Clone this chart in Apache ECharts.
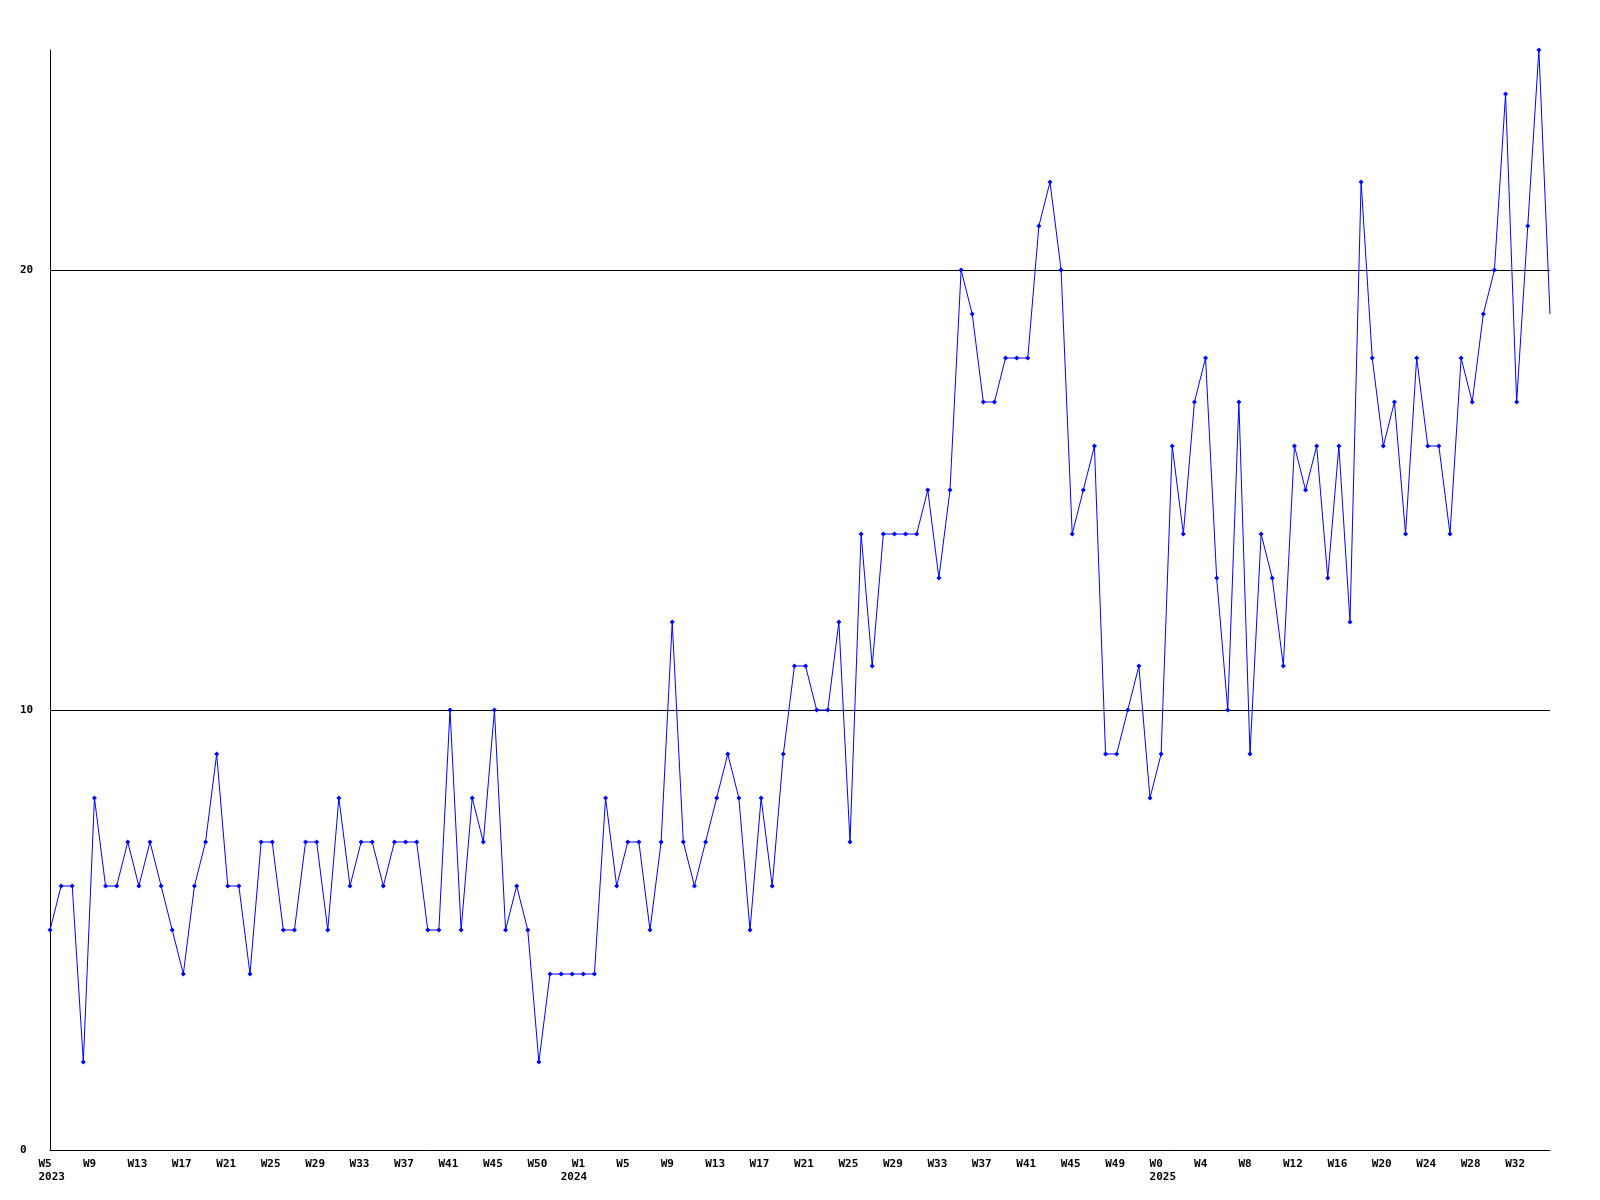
<!DOCTYPE html>
<html>
<head>
<meta charset="utf-8">
<script src="https://cdn.jsdelivr.net/npm/echarts@6/dist/echarts.min.js"></script>
<style>
html,body{margin:0;padding:0;background:#fff;}
#chart{width:1600px;height:1200px;}
</style>
</head>
<body>
<div id="chart"></div>
<script>
// Week numbers per year (one entry per data point)
const weeks2023 = [5,6,7,8,9,10,11,12,13,14,15,16,17,18,19,20,21,22,23,24,25,26,27,28,29,30,31,32,33,34,35,36,37,38,39,40,41,42,43,44,45,46,47,48,50,51,52];
const weeks2024 = [0,1,2,3,4,5,6,7,8,9,10,11,12,13,14,15,16,17,18,19,20,21,22,23,24,25,26,27,28,29,30,31,32,33,34,35,36,37,38,39,40,41,42,43,44,45,46,47,48,49,50,51,52];
const weeks2025 = [0,1,2,3,4,5,6,7,8,9,10,11,12,13,14,15,16,17,18,19,20,21,22,23,24,25,26,27,28,29,30,31,32,33,34,35];

// Weekly values
const values = [
  5,6,6,2,8,6,6,7,6,7,
  6,5,4,6,7,9,6,6,4,7,
  7,5,5,7,7,5,8,6,7,7,
  6,7,7,7,5,5,10,5,8,7,
  10,5,6,5,2,4,4,4,4,4,
  8,6,7,7,5,7,12,7,6,7,
  8,9,8,5,8,6,9,11,11,10,
  10,12,7,14,11,14,14,14,14,15,
  13,15,20,19,17,17,18,18,18,21,
  22,20,14,15,16,9,9,10,11,8,
  9,16,14,17,18,13,10,17,9,14,
  13,11,16,15,16,13,16,12,22,18,
  16,17,14,18,16,16,14,18,17,19,
  20,24,17,21,25,19
];

const yTicks = [0, 10, 20];

const categories = [];
const yearOf = [];
weeks2023.forEach(w => { categories.push('W' + w); yearOf.push(2023); });
weeks2024.forEach(w => { categories.push('W' + w); yearOf.push(2024); });
weeks2025.forEach(w => { categories.push('W' + w); yearOf.push(2025); });

const LABEL_STEP = 4;
const font = '"DejaVu Sans Mono", "Liberation Mono", monospace';

const seriesData = values.map((v, i) => i === values.length - 1 ? {value: v, symbol: 'none'} : v);

const labelBase = {
  color: '#000',
  fontFamily: font,
  fontWeight: 'bold',
  fontSize: 11,
  rich: {t: {width: 23, align: 'left', fontFamily: font, fontWeight: 'bold', fontSize: 11, color: '#000'}}
};

const chart = echarts.init(document.getElementById('chart'), null, {renderer: 'canvas'});
chart.setOption({
  backgroundColor: '#ffffff',
  animation: false,
  grid: {left: 50, right: 50, top: 50, bottom: 50, containLabel: false},
  xAxis: [{
    type: 'category',
    data: categories,
    boundaryGap: false,
    position: 'bottom',
    axisLine: {lineStyle: {color: '#000', width: 1}},
    axisTick: {show: false},
    splitLine: {show: false},
    axisLabel: Object.assign({}, labelBase, {
      interval: LABEL_STEP - 1,
      margin: 9,
      formatter: function (val) { return '{t|' + val + '}'; }
    })
  }, {
    type: 'category',
    data: categories,
    boundaryGap: false,
    position: 'bottom',
    offset: 0,
    axisLine: {show: false},
    axisTick: {show: false},
    splitLine: {show: false},
    axisLabel: Object.assign({}, labelBase, {
      interval: function (idx) { return idx === 0 || yearOf[idx] !== yearOf[idx - 1]; },
      margin: 22,
      formatter: function (val, idx) { return '{t|' + yearOf[idx] + '}'; }
    })
  }],
  yAxis: {
    type: 'value',
    min: 0,
    max: 25,
    interval: 10,
    axisLine: {show: true, lineStyle: {color: '#000', width: 1}},
    axisTick: {show: false},
    splitLine: {show: true, showMinLine: false, showMaxLine: false, lineStyle: {color: '#000', width: 1}},
    axisLabel: {
      showMaxLabel: false,
      margin: 30,
      align: 'left',
      color: '#000',
      fontFamily: font,
      fontWeight: 'bold',
      fontSize: 11,
      formatter: function (v) { return yTicks.indexOf(v) >= 0 ? String(v) : ''; }
    }
  },
  series: [{
    type: 'line',
    xAxisIndex: 0,
    data: seriesData,
    showSymbol: true,
    symbol: 'diamond',
    symbolSize: 5,
    lineStyle: {color: '#0000ff', width: 1},
    itemStyle: {color: '#0000ff'},
    emphasis: {disabled: true}
  }]
});
</script>
</body>
</html>
